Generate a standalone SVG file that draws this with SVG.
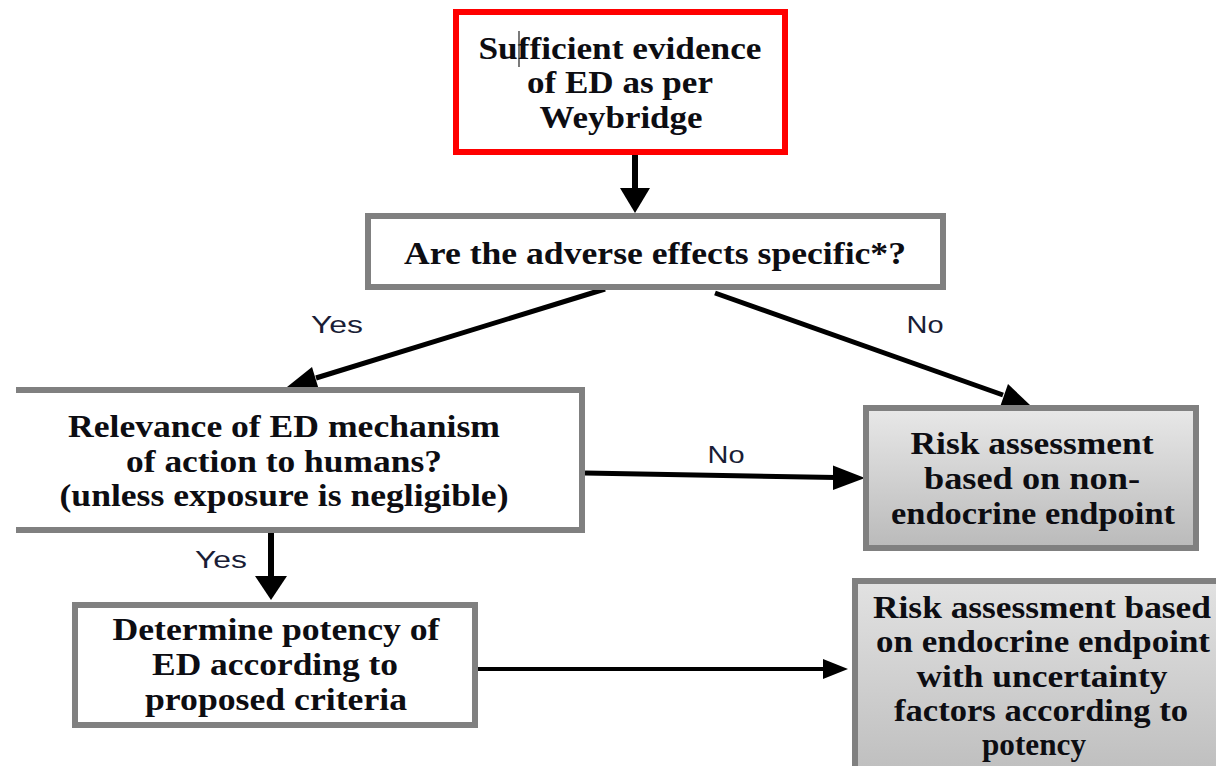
<svg xmlns="http://www.w3.org/2000/svg" width="1216" height="766" viewBox="0 0 1216 766">
  <defs>
    <linearGradient id="g3" x1="0" y1="0" x2="0" y2="1">
      <stop offset="0" stop-color="#e8e8e8"/>
      <stop offset="1" stop-color="#bababa"/>
    </linearGradient>
    <linearGradient id="g4" x1="0" y1="0" x2="0" y2="1">
      <stop offset="0" stop-color="#e2e2e2"/>
      <stop offset="1" stop-color="#b4b4b4"/>
    </linearGradient>
    <style>
      .box { fill: #ffffff; stroke: #808080; stroke-width: 6; }
      .t { font-family: "Liberation Serif", "Times New Roman", serif; font-weight: bold; font-size: 31px; fill: #0d0d12; text-anchor: middle; }
      .lbl { font-family: "Liberation Sans", Arial, sans-serif; font-size: 24px; fill: #1a1d36; text-anchor: middle; }
      .ln { stroke: #000000; fill: none; }
      .hd { fill: #000000; stroke: none; }
    </style>
  </defs>
  <rect width="1216" height="766" fill="#ffffff"/>

  <g id="connectors">
    <line class="ln" x1="635" y1="155" x2="635" y2="190" stroke-width="6"/>
    <polygon class="hd" points="635,213 620,188 650,188"/>

    <line class="ln" x1="605" y1="289" x2="316" y2="378" stroke-width="5"/>
    <polygon class="hd" points="287,387 312,367 319,390"/>
    <text class="lbl" x="337" y="333" textLength="52" lengthAdjust="spacingAndGlyphs">Yes</text>

    <line class="ln" x1="715" y1="293" x2="1003" y2="395" stroke-width="5"/>
    <polygon class="hd" points="1030,405 1000,407 1008,384"/>
    <text class="lbl" x="925" y="333" textLength="37" lengthAdjust="spacingAndGlyphs">No</text>

    <line class="ln" x1="585" y1="473" x2="836" y2="477.5" stroke-width="5"/>
    <polygon class="hd" points="865,478 833,465.5 833,490"/>
    <text class="lbl" x="726" y="463" textLength="37" lengthAdjust="spacingAndGlyphs">No</text>

    <line class="ln" x1="271" y1="533" x2="271" y2="578" stroke-width="6"/>
    <polygon class="hd" points="271,600 255,576 287,576"/>
    <text class="lbl" x="221" y="568" textLength="52" lengthAdjust="spacingAndGlyphs">Yes</text>

    <line class="ln" x1="475" y1="669" x2="826" y2="669" stroke-width="4"/>
    <polygon class="hd" points="848,669 823,659 823,679"/>
  </g>

  <g id="node-weybridge">
    <rect x="456" y="12" width="329" height="140" fill="#ffffff" stroke="#ff0000" stroke-width="6"/>
    <text class="t" x="620" y="59" textLength="283" lengthAdjust="spacingAndGlyphs">Sufficient evidence</text>
    <text class="t" x="620" y="93" textLength="186" lengthAdjust="spacingAndGlyphs">of ED as per</text>
    <text class="t" x="621" y="128" textLength="163" lengthAdjust="spacingAndGlyphs">Weybridge</text>
    <line x1="519" y1="31" x2="519" y2="67" stroke="#222222" stroke-width="1.2"/>
  </g>

  <g id="node-specific">
    <rect class="box" x="368" y="216" width="575" height="71"/>
    <text class="t" x="655" y="264" textLength="502" lengthAdjust="spacingAndGlyphs">Are the adverse effects specific*?</text>
  </g>

  <g id="node-relevance">
    <rect x="16" y="390" width="566" height="140" fill="#ffffff"/>
    <path d="M16,390 H582 V530 H16" fill="none" stroke="#808080" stroke-width="6"/>
    <text class="t" x="284" y="437" textLength="432" lengthAdjust="spacingAndGlyphs">Relevance of ED mechanism</text>
    <text class="t" x="284" y="472" textLength="316" lengthAdjust="spacingAndGlyphs">of action to humans?</text>
    <text class="t" x="284" y="506" textLength="449" lengthAdjust="spacingAndGlyphs">(unless exposure is negligible)</text>
  </g>

  <g id="node-nonendocrine">
    <rect x="866" y="408" width="330" height="140" fill="url(#g3)" stroke="#808080" stroke-width="6"/>
    <text class="t" x="1032" y="454" textLength="243" lengthAdjust="spacingAndGlyphs">Risk assessment</text>
    <text class="t" x="1032" y="489" textLength="216" lengthAdjust="spacingAndGlyphs">based on non-</text>
    <text class="t" x="1033" y="524" textLength="284" lengthAdjust="spacingAndGlyphs">endocrine endpoint</text>
  </g>

  <g id="node-potency">
    <rect class="box" x="75" y="605" width="400" height="120"/>
    <text class="t" x="276" y="640" textLength="327" lengthAdjust="spacingAndGlyphs">Determine potency of</text>
    <text class="t" x="275" y="675" textLength="246" lengthAdjust="spacingAndGlyphs">ED according to</text>
    <text class="t" x="276" y="710" textLength="262" lengthAdjust="spacingAndGlyphs">proposed criteria</text>
  </g>

  <g id="node-endocrine">
    <rect x="855" y="581" width="400" height="250" fill="url(#g4)" stroke="#808080" stroke-width="6"/>
    <text class="t" x="1042" y="618" textLength="338" lengthAdjust="spacingAndGlyphs">Risk assessment based</text>
    <text class="t" x="1043" y="652" textLength="334" lengthAdjust="spacingAndGlyphs">on endocrine endpoint</text>
    <text class="t" x="1042" y="687" textLength="251" lengthAdjust="spacingAndGlyphs">with uncertainty</text>
    <text class="t" x="1041" y="721" textLength="294" lengthAdjust="spacingAndGlyphs">factors according to</text>
    <text class="t" x="1034" y="755" textLength="104" lengthAdjust="spacingAndGlyphs">potency</text>
  </g>
</svg>
